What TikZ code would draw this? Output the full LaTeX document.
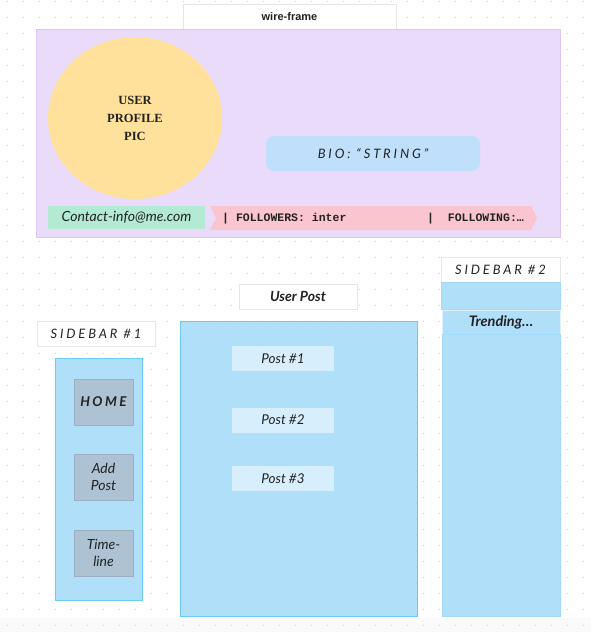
\documentclass[tikz,border=0pt]{standalone}
\usepackage{fontspec}
\usetikzlibrary{shapes.geometric}
\setmainfont{Liberation Serif}
\newfontfamily\hand{Lato}
\newfontfamily\handsp[LetterSpace=22]{Lato}
\newfontfamily\handbsp[LetterSpace=18]{Lato}
\newfontfamily\labelfont{Liberation Sans}
\newfontfamily\monofont{Liberation Mono}
\definecolor{purplebg}{HTML}{E8D7FB}
\definecolor{purpleln}{HTML}{DCC6F6}
\definecolor{yellowc}{HTML}{FFE19C}
\definecolor{biobl}{HTML}{BFDFFB}
\definecolor{mint}{HTML}{B3EAD3}
\definecolor{pinkc}{HTML}{FAC5CF}
\definecolor{panel}{HTML}{B0DFFA}
\definecolor{panelln}{HTML}{6CCBF5}
\definecolor{btn}{HTML}{ADC3D3}
\definecolor{postc}{HTML}{D7EEFC}
\definecolor{lblln}{HTML}{E6E6E6}
\definecolor{dotc}{HTML}{CCCCCC}
\definecolor{txt}{HTML}{222222}
\begin{document}
\begin{tikzpicture}[x=1pt,y=-1pt,
  lbl/.style={draw=lblln, fill=white, line width=0.8pt, inner sep=0pt, text=txt},
  pnl/.style={draw=panelln, fill=panel, line width=0.8pt, inner sep=0pt},
  btnbox/.style={fill=btn, draw=btn!90!black, line width=0.3pt, inner sep=0pt, text=txt, align=center,
     minimum width=59pt, minimum height=46pt, font=\hand\itshape\fontsize{14}{17}\selectfont},
  postbox/.style={fill=postc, inner sep=0pt, text=txt, minimum width=102pt, minimum height=25pt,
     font=\hand\itshape\fontsize{13.5}{15}\selectfont},
  every node/.style={anchor=center}]
\useasboundingbox (0,0) rectangle (591,632);
\fill[gray!4] (0,618) rectangle (591,632);
% dot grid
\foreach \i in {0,...,36} {
  \foreach \j in {0,...,39} {
    \fill[dotc] ({7.3+16*\i},{1.3+16*\j}) circle (0.6pt);
  }
}
% header frame
\node[lbl, minimum width=213pt, minimum height=25pt, font=\labelfont\bfseries\fontsize{11}{13}\selectfont] (wf) at (289.5,17) {wire-frame};
\node[fill=purplebg, fill opacity=0.9, draw=purpleln, line width=0.8pt, minimum width=524pt, minimum height=208pt, inner sep=0pt] (hdr) at (298.5,133.5) {};
\node[ellipse, fill=yellowc, minimum width=174pt, minimum height=162pt, inner sep=0pt, align=center,
  font=\bfseries\fontsize{12.5}{18}\selectfont, text=txt] (pic) at (135,118) {USER\\PROFILE\\PIC};
\node[fill=biobl, rounded corners=8pt, minimum width=214pt, minimum height=35pt, inner sep=0pt,
  font=\handsp\itshape\fontsize{13}{15}\selectfont, text=txt] (bio) at (373,153.5) {BIO: “STRING”};
\node[fill=mint, minimum width=157pt, minimum height=23pt, inner sep=0pt,
  font=\hand\itshape\fontsize{14}{15}\selectfont, text=txt] (contact) at (126.5,217.5) {Contact-info@me.com};
\fill[pinkc] (210,206) -- (531,206) -- (537,218) -- (531,230) -- (210,230) -- (216,218) -- cycle;
\node[font=\monofont\bfseries\fontsize{11.5}{13}\selectfont, text=txt, anchor=west, inner sep=0pt] (fol) at (222,218.5) {| FOLLOWERS: inter};
\node[font=\monofont\bfseries\fontsize{11.5}{13}\selectfont, text=txt, anchor=west, inner sep=0pt] (fing) at (427,218.5) {|\ \ FOLLOWING:…};
% sidebar 1
\node[lbl, minimum width=118pt, minimum height=25pt, font=\handsp\itshape\fontsize{13}{15}\selectfont] (sb1l) at (96,333.5) {SIDEBAR \#1};
\node[pnl, minimum width=87pt, minimum height=242pt] (sb1) at (98.5,479) {};
\node[btnbox, font=\handbsp\itshape\bfseries\fontsize{13.5}{15}\selectfont] (home) at (103.5,402) {HOME};
\node[btnbox] (add) at (103.5,477) {Add\\Post};
\node[btnbox] (tl) at (103.5,553) {Time-\\line};
% user post
\node[lbl, minimum width=118pt, minimum height=25pt, font=\hand\itshape\bfseries\fontsize{14}{15}\selectfont] (upl) at (298,296.5) {User Post};
\node[pnl, minimum width=237pt, minimum height=295pt] (up) at (298.5,468.5) {};
\node[postbox] (p1) at (283,358.5) {Post \#1};
\node[postbox] (p2) at (283,420) {Post \#2};
\node[postbox] (p3) at (283,478.5) {Post \#3};
% sidebar 2
\node[lbl, minimum width=119pt, minimum height=25pt, font=\handsp\itshape\fontsize{13}{15}\selectfont] (sb2l) at (500.5,269.5) {SIDEBAR \#2};
\node[fill=panel, draw=panel!80!panelln, line width=0.8pt, minimum width=119pt, minimum height=27pt, inner sep=0pt] (sb2a) at (500.5,295.5) {};
\node[fill=panel, draw=white!60!panel, line width=0.8pt, minimum width=118pt, minimum height=24pt, inner sep=0pt,
  font=\hand\itshape\bfseries\fontsize{14.5}{15}\selectfont, text=txt] (trend) at (501,322) {Trending…};
\node[fill=panel, draw=panel!80!panelln, line width=0.8pt, minimum width=118pt, minimum height=282pt, inner sep=0pt] (sb2b) at (501,475) {};
\end{tikzpicture}
\end{document}
